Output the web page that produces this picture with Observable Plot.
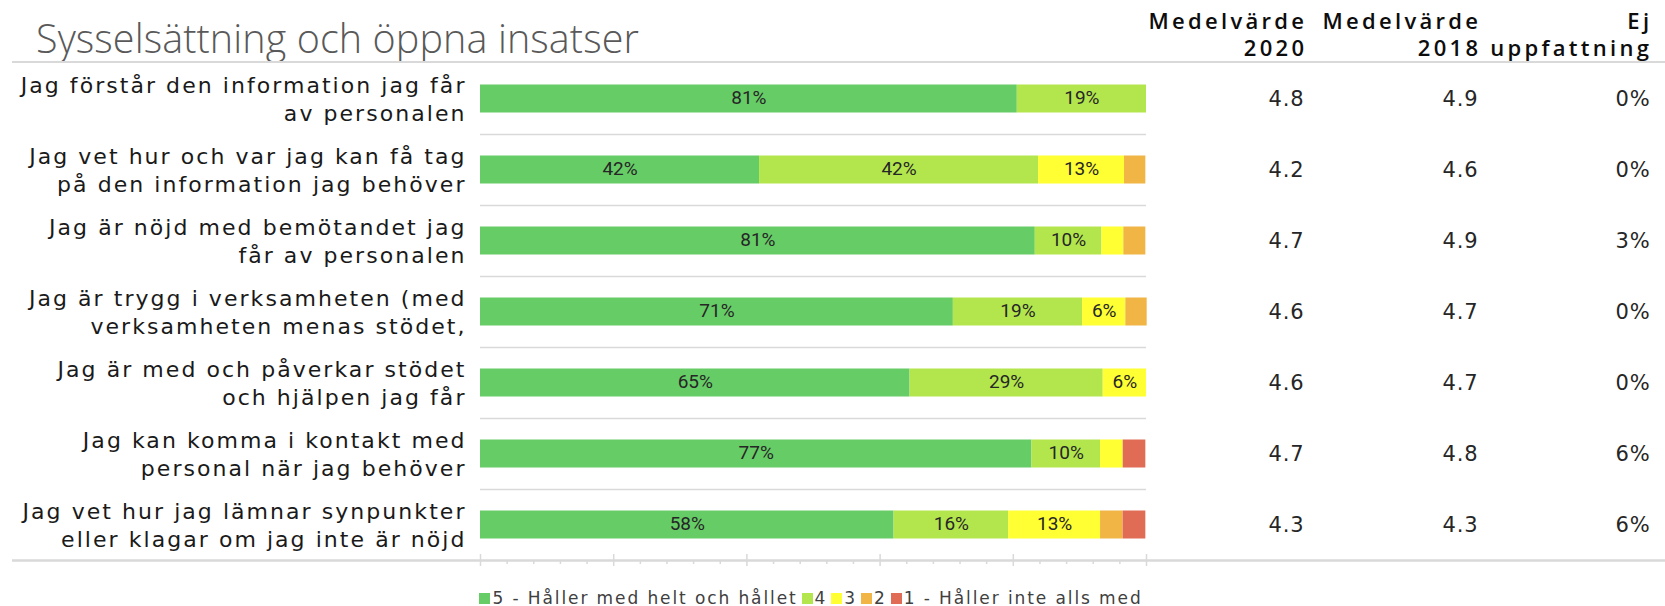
<!DOCTYPE html>
<html><head><meta charset="utf-8">
<script src="https://cdn.jsdelivr.net/npm/d3@7"></script>
<script src="https://cdn.jsdelivr.net/npm/@observablehq/plot@0.6"></script>
<style>
html,body{margin:0;padding:0;background:#fff;}
body{width:1665px;height:606px;overflow:hidden;position:relative;}
#head{position:relative;width:1665px;height:63px;}
#title{position:absolute;left:36px;top:11px;font-family:"Open Sans",sans-serif;font-weight:300;font-size:39.5px;color:#595959;white-space:nowrap;letter-spacing:0.1px;}
#hline{position:absolute;left:12px;right:0;top:61px;height:2px;background:#d9d9d9;}
.colh{position:absolute;top:7px;text-align:right;font-family:"Open Sans",sans-serif;font-weight:600;font-size:22px;line-height:27px;letter-spacing:3.3px;color:#0d0d0d;white-space:nowrap;}
#chart svg{display:block;}
#chart g[font-family*="Verdana"]{letter-spacing:2.05px;}
#chart g[font-family*="Tahoma"]{letter-spacing:0.9px;}
#legend{position:absolute;left:480px;width:666px;top:588px;display:flex;justify-content:center;align-items:center;font-family:"DejaVu Sans",sans-serif;font-size:17px;letter-spacing:1.9px;color:#404040;white-space:nowrap;}
#legend .sw{display:inline-block;width:11px;height:11px;margin-right:2px;}
#legend .it{display:flex;align-items:center;margin-right:4px;}
</style></head><body>
<div id="head">
  <div id="title">Sysselsättning och öppna insatser</div>
  <div id="hline"></div>
</div>
<div id="chart"></div>
<div id="legend"></div>
<script>
// ---- data ----
const categories = [
  "Jag förstår den information jag får\nav personalen",
  "Jag vet hur och var jag kan få tag\npå den information jag behöver",
  "Jag är nöjd med bemötandet jag\nfår av personalen",
  "Jag är trygg i verksamheten (med\nverksamheten menas stödet,",
  "Jag är med och påverkar stödet\noch hjälpen jag får",
  "Jag kan komma i kontakt med\npersonal när jag behöver",
  "Jag vet hur jag lämnar synpunkter\neller klagar om jag inte är nöjd"
];
const levels = ["5 - Håller med helt och hållet", "4", "3", "2", "1 - Håller inte alls med"];
const levelColors = ["#66cc66", "#b3e64d", "#ffff33", "#f0b545", "#e06c55"];
// bar widths (share of answers, %)
const level5 = [80.6, 41.9, 83.3, 71.0, 64.5, 82.8, 62.1];
const level4 = [19.4, 41.9, 10.0, 19.4, 29.0, 10.3, 17.2];
const level3 = [0, 12.9, 3.3, 6.5, 6.5, 3.4, 13.8];
const level2 = [0, 3.2, 3.3, 3.2, 0, 0, 3.4];
const level1 = [0, 0, 0, 0, 0, 3.4, 3.4];
// printed labels inside the bars (%), null = not printed
const label5 = [81, 42, 81, 71, 65, 77, 58];
const label4 = [19, 42, 10, 19, 29, 10, 16];
const label3 = [null, 13, null, 6, 6, null, 13];
const label2 = [null, null, null, null, null, null, null];
const label1 = [null, null, null, null, null, null, null];
// table columns
const columnHeaders = ["Medelvärde\n2020", "Medelvärde\n2018", "Ej\nuppfattning"];
const mean2020 = [4.8, 4.2, 4.7, 4.6, 4.6, 4.7, 4.3];
const mean2018 = [4.9, 4.6, 4.9, 4.7, 4.7, 4.8, 4.3];
const noOpinion = [0, 0, 3, 0, 0, 6, 6];
const majorTicks = [0, 20, 40, 60, 80, 100];
const minorTicks = [4, 8, 12, 16, 24, 28, 32, 36, 44, 48, 52, 56, 64, 68, 72, 76, 84, 88, 92, 96];

// ---- layout ----
const W = 1665, step = 71, n = categories.length, frameH = step * n, bottomM = 14;
const barStart = 480, barEnd = 1146;
const colRight = [1304, 1478, 1649];

const seriesVals = [level5, level4, level3, level2, level1];
const seriesLabs = [label5, label4, label3, label2, label1];
const long = [];
categories.forEach((c, i) => levels.forEach((l, j) => long.push({cat: c, level: l, value: seriesVals[j][i], label: seriesLabs[j][i]})));
const rows = categories.map((c, i) => ({cat: c, m20: mean2020[i], m18: mean2018[i], ej: noOpinion[i]}));

// column headers (HTML above the chart)
const head = document.getElementById("head");
columnHeaders.forEach((h, k) => {
  const d = document.createElement("div");
  d.className = "colh";
  d.style.right = (W - colRight[k] - 3.3) + "px";
  d.innerHTML = h.split("\n").join("<br>");
  head.appendChild(d);
});

const valueFont = {fontFamily: "DejaVu Sans, Tahoma, sans-serif", fontSize: 21, fill: "#262626", textAnchor: "end"};

const chart = Plot.plot({
  width: W,
  height: frameH + bottomM,
  marginTop: 0, marginBottom: bottomM, marginLeft: 12, marginRight: 0,
  x: {domain: [0, 100], range: [barStart, barEnd], axis: null},
  y: {domain: categories, padding: 0, axis: null},
  color: {domain: levels, range: levelColors},
  style: {background: "#fff", overflow: "visible"},
  marks: [
    Plot.ruleY(categories.slice(0, n - 1), {y: d => d, x1: 0, x2: 100, dy: step / 2, stroke: "#d9d9d9", strokeWidth: 1.5}),
    Plot.barX(long, Plot.stackX({x: "value", y: "cat", fill: "level", insetTop: 21.5, insetBottom: 21.5})),
    Plot.text(long, Plot.stackX({x: "value", y: "cat", text: d => d.label == null ? "" : d.label + "%",
      fontFamily: "Liberation Sans Narrow, Roboto, sans-serif", fontSize: 19, fill: "#262626", dy: -1})),
    Plot.text(categories, {x: 0, y: d => d, text: d => d, textAnchor: "end", dx: -14, dy: -1, lineHeight: 1.3,
      fontFamily: "DejaVu Sans, Verdana, sans-serif", fontSize: 22, fill: "#1a1a1a"}),
    Plot.text(rows, {x: 100, y: "cat", text: d => d.m20.toFixed(1), dx: colRight[0] - barEnd, dy: 0, ...valueFont}),
    Plot.text(rows, {x: 100, y: "cat", text: d => d.m18.toFixed(1), dx: colRight[1] - barEnd, dy: 0, ...valueFont}),
    Plot.text(rows, {x: 100, y: "cat", text: d => d.ej + "%", dx: colRight[2] + 1 - barEnd, dy: 0, ...valueFont}),
    Plot.ruleY([categories[n - 1]], {y: d => d, dy: step / 2, stroke: "#d9d9d9", strokeWidth: 2.5}),
    Plot.tickX(majorTicks, {x: d => d, insetTop: frameH - 6, insetBottom: -6, stroke: "#d9d9d9", strokeWidth: 1.5}),
    Plot.tickX(minorTicks, {x: d => d, insetTop: frameH, insetBottom: -4, stroke: "#d9d9d9", strokeWidth: 1.5})
  ]
});
document.getElementById("chart").appendChild(chart);

// legend
const lg = document.getElementById("legend");
levels.forEach((l, j) => {
  const it = document.createElement("span");
  it.className = "it";
  const sw = document.createElement("span");
  sw.className = "sw";
  sw.style.background = levelColors[j];
  it.appendChild(sw);
  it.appendChild(document.createTextNode(l));
  lg.appendChild(it);
});
</script>
</body></html>
